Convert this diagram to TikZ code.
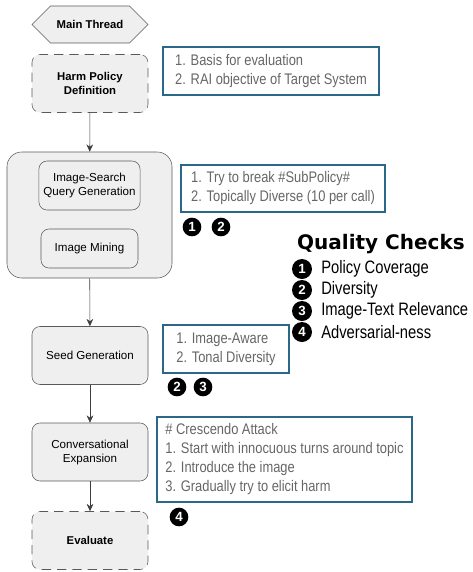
\documentclass[tikz,border=0pt]{standalone}
\usepackage{fontspec}
\setmainfont{Liberation Sans}
\newfontfamily\narrowfont[FakeStretch=0.82]{Liberation Sans}
\newfontfamily\notefont[FakeStretch=0.84]{Liberation Sans}
\newfontfamily\titlefont{DejaVu Sans}
\usepackage{tikz}
\usetikzlibrary{shapes.symbols,arrows.meta}

\definecolor{boxfill}{HTML}{EFEFEF}
\definecolor{boxline}{HTML}{595959}
\definecolor{notefrm}{HTML}{2B6788}
\definecolor{notetxt}{HTML}{666666}

\begin{document}
\begin{tikzpicture}[x=0.75pt,y=-0.75pt,
    proc/.style={draw=boxline,fill=boxfill,rounded corners=6pt,minimum width=87pt,minimum height=43.5pt,
        align=center,font=\fontsize{8.7}{10.5}\selectfont},
    dproc/.style={proc,dash pattern=on 7pt off 4.5pt,font=\bfseries\fontsize{8.5}{11}\selectfont},
    note/.style={draw=notefrm,line width=1.4pt,align=left,text=notetxt,font=\notefont\fontsize{11.5}{14.25}\selectfont},
    badge/.style={circle,fill=black,text=white,inner sep=0pt,minimum size=14pt,font=\bfseries\fontsize{10}{11}\selectfont},
    flow/.style={draw=boxline!70!black,-{Stealth[length=5.5pt,width=5pt]}}]
    \useasboundingbox (0,0) rectangle (472,572);

    % main column
    \node[signal,signal to=west and east,draw=boxline,fill=boxfill,minimum width=87pt,minimum height=27.75pt,
        font=\bfseries\fontsize{8.5}{10}\selectfont] (main) at (90,24.5) {Main Thread};
    \node[dproc] (harm) at (90,83.5) {Harm Policy\\Definition};
    \node[draw=boxline,fill=boxfill,rounded corners=11pt,minimum width=123.75pt,minimum height=94.5pt] (mine) at (89.5,215) {};
    \node[proc,minimum width=72.75pt,minimum height=36.75pt] (query) at (89.5,185.5) {Image-Search\\Query Generation};
    \node[proc,minimum width=72.75pt,minimum height=29.25pt] (mining) at (89.5,248.5) {Image Mining};
    \node[proc] (seed) at (90,355.5) {Seed Generation};
    \node[proc] (conv) at (90,452) {Conversational\\Expansion};
    \node[dproc] (eval) at (90,540.5) {Evaluate};

    \draw[flow] (harm) -- (mine);
    \draw[flow] (mine) -- (seed);
    \draw[flow] (seed) -- (conv);
    \draw[flow] (conv) -- (eval);

    % notes
    \node[note,minimum width=162pt,minimum height=36pt] (basis) at (271,71)
        {1. Basis for evaluation\\2. RAI objective of Target System};
    \node[note,minimum width=153pt,minimum height=35.25pt] (diverse) at (283,188.5)
        {1. Try to break \#SubPolicy\#\\2. Topically Diverse (10 per call)};
    \node[badge] (ba) at (192,227) {1};
    \node[badge] (bb) at (221,227) {2};
    \node[note,minimum width=94.5pt,minimum height=36pt] (tonal) at (226,349)
        {1. Image-Aware\\2. Tonal Diversity};
    \node[badge] (bc) at (177,387) {2};
    \node[badge] (bd) at (203,387) {3};
    \node[note,minimum width=191.25pt,minimum height=63.75pt] (crescendo) at (284.5,459.5)
        {\# Crescendo Attack\\1. Start with innocuous turns around topic\\2. Introduce the image\\3. Gradually try to elicit harm};
    \node[badge] (be) at (179,517) {4};

    % quality checks
    \node[font=\titlefont\bfseries\fontsize{15}{17}\selectfont] (qc) at (381,244) {Quality Checks};
    \foreach \n/\t in {1/Policy Coverage,2/Diversity,3/Image-Text Relevance,4/Adversarial-ness} {
        \node[badge,minimum size=15pt] (q\n) at (302,248+21*\n) {\n};
        \node[anchor=west,inner sep=0pt,font=\narrowfont\fontsize{13.5}{15}\selectfont] (qt\n) at (321,248+21*\n) {\t};
    }
\end{tikzpicture}
\end{document}
